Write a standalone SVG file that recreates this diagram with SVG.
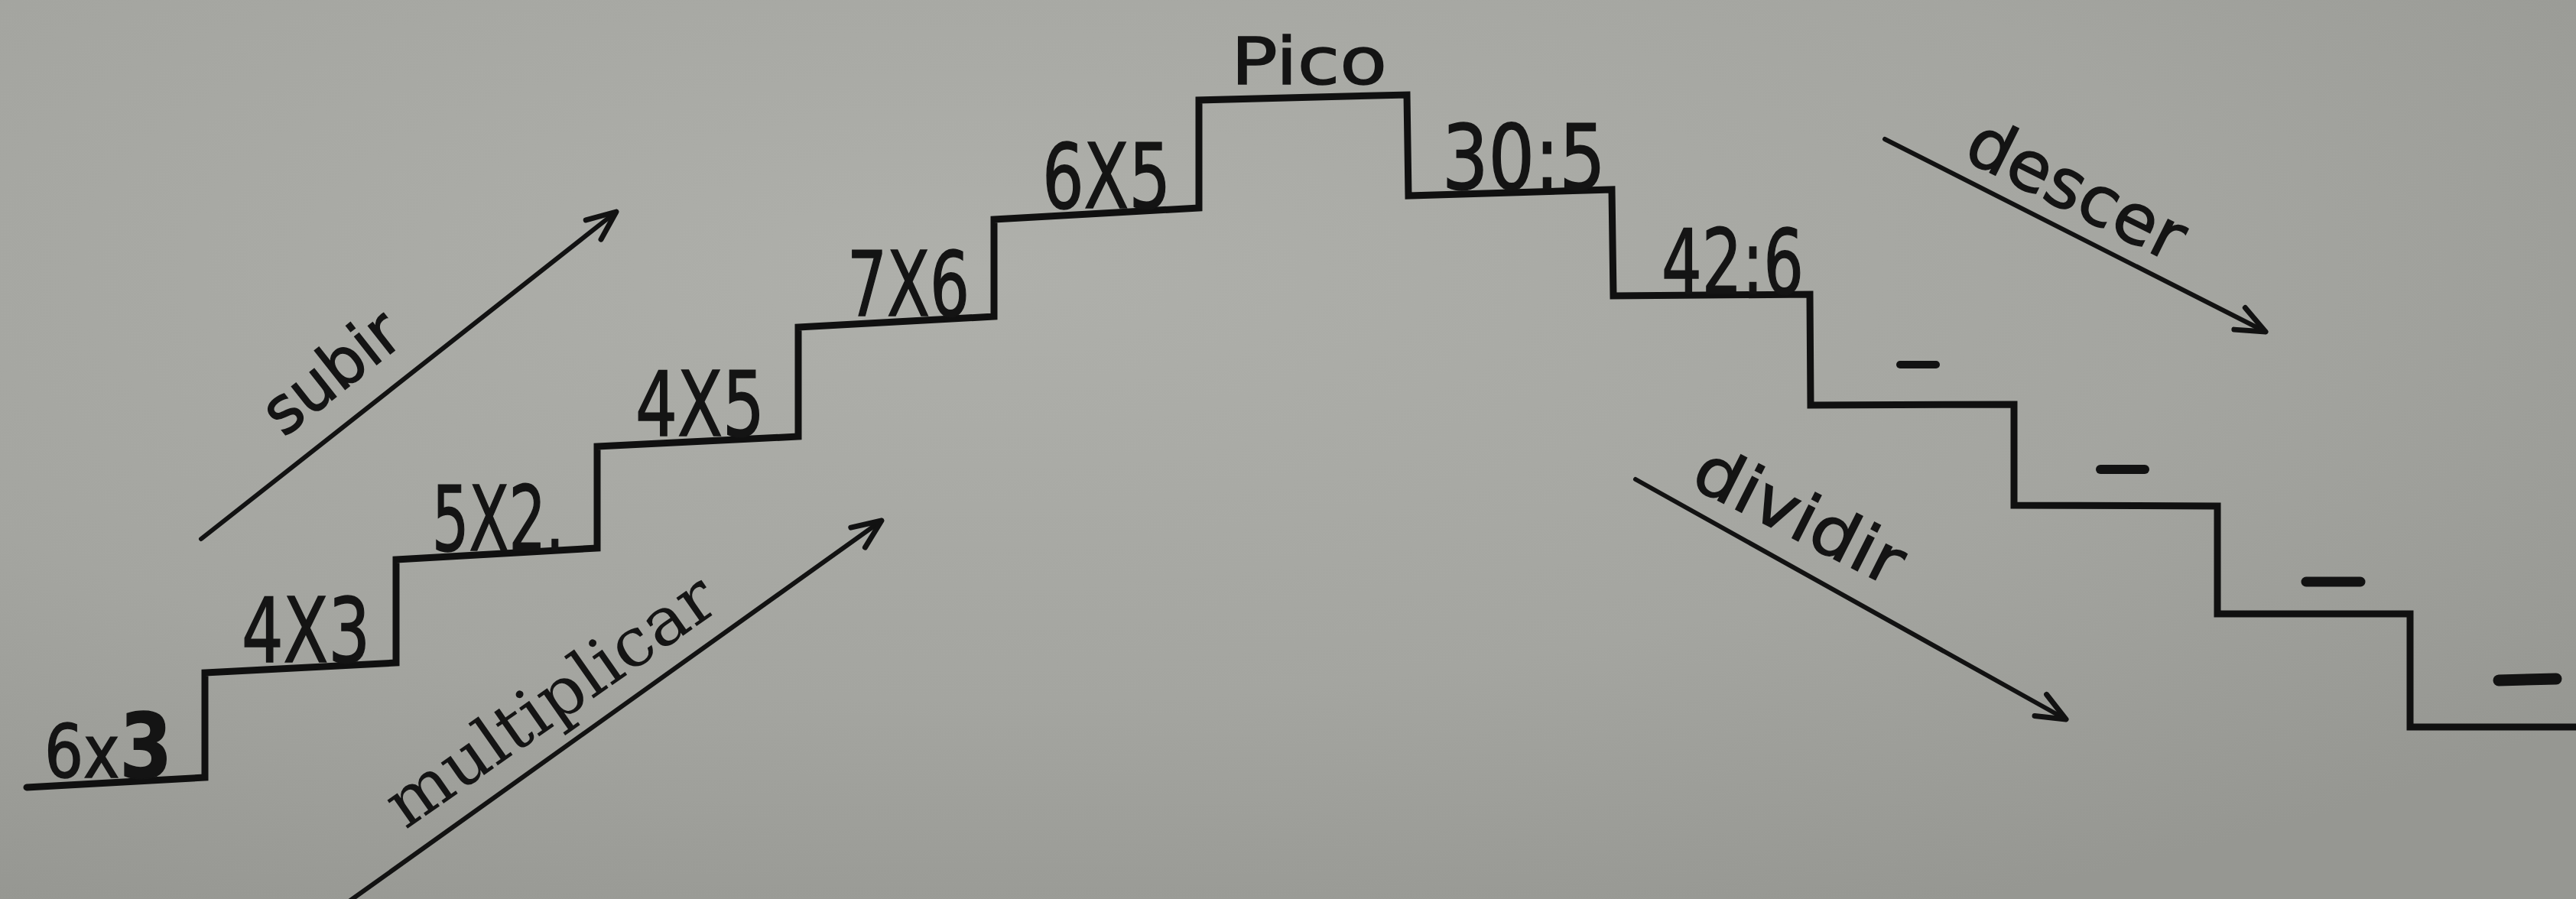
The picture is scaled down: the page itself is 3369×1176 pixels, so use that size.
<svg xmlns="http://www.w3.org/2000/svg" width="3369" height="1176" viewBox="0 0 3369 1176">
  <defs>
    <radialGradient id="paper" cx="0.38" cy="0.3" r="0.8">
      <stop offset="0" stop-color="#afb0ab"/>
      <stop offset="0.6" stop-color="#a4a5a0"/>
      <stop offset="1" stop-color="#969792"/>
    </radialGradient>
    <marker id="head" markerUnits="userSpaceOnUse" viewBox="-44 -22 50 44" refX="0" refY="0" markerWidth="50" markerHeight="44" orient="auto">
      <path d="M -38 -16 L 0 0 L -38 16" fill="none" stroke="#121212" stroke-width="7" stroke-linecap="round" stroke-linejoin="round"/>
    </marker>
    <style>
      .stair { fill: none; stroke: #101010; stroke-width: 9; stroke-linejoin: miter; stroke-linecap: round; }
      .num { font-family: "DejaVu Sans Condensed", "DejaVu Sans", "Liberation Sans", sans-serif; font-size: 118px; fill: #141414; stroke: #141414; stroke-width: 1.5; }
      .word { font-family: "DejaVu Sans", "Liberation Sans", sans-serif; fill: #141414; stroke: #141414; stroke-width: 1.5; }
      .serif { font-family: "DejaVu Serif", "Liberation Serif", serif; fill: #141414; }
      .arrow { fill: none; stroke: #121212; stroke-width: 6; stroke-linecap: round; marker-end: url(#head); }
      .dash { stroke: #121212; stroke-linecap: round; }
    </style>
  </defs>

  <rect width="3369" height="1176" fill="url(#paper)"/>

  <g id="staircase">
    <path class="stair" d="M 35 1030 L 268 1017 L 268 880 L 518 867 L 518 732 L 781 717 L 781 584 L 1044 571 L 1044 428 L 1300 414 L 1300 287 L 1568 272 L 1568 131 L 1840 124 L 1842 256 L 2108 248 L 2110 387 L 2367 385 L 2368 530 L 2634 529 L 2634 661 L 2900 662 L 2900 803 L 3152 803 L 3152 951 L 3369 951"/>
  </g>

  <g id="step-6x3"><text class="num" x="58" y="1017" textLength="167" lengthAdjust="spacingAndGlyphs"><tspan font-size="96">6x</tspan><tspan font-weight="bold">3</tspan></text></g>
  <g id="step-4x3"><text class="num" x="316" y="866" textLength="168" lengthAdjust="spacingAndGlyphs">4X3</text></g>
  <g id="step-5x2"><text class="num" x="565" y="720" textLength="173" lengthAdjust="spacingAndGlyphs">5X2.</text></g>
  <g id="step-4x5"><text class="num" x="831" y="570" textLength="169" lengthAdjust="spacingAndGlyphs">4X5</text></g>
  <g id="step-7x6"><text class="num" x="1108" y="413" textLength="160" lengthAdjust="spacingAndGlyphs">7X6</text></g>
  <g id="step-6x5"><text class="num" x="1363" y="272" textLength="168" lengthAdjust="spacingAndGlyphs">6X5</text></g>
  <g id="pico"><text class="word" x="1610" y="110" font-size="86" textLength="204" lengthAdjust="spacingAndGlyphs">Pico</text></g>
  <g id="step-30-5"><text class="num" x="1886" y="247" textLength="214" lengthAdjust="spacingAndGlyphs">30:5</text></g>
  <g id="step-42-6"><text class="num" x="2173" y="384" textLength="186" lengthAdjust="spacingAndGlyphs">42:6</text></g>

  <g id="blanks">
    <line class="dash" x1="2485" y1="477" x2="2532" y2="477" stroke-width="10"/>
    <line class="dash" x1="2747" y1="614" x2="2805" y2="614" stroke-width="12"/>
    <line class="dash" x1="3016" y1="761" x2="3087" y2="761" stroke-width="13"/>
    <line class="dash" x1="3268" y1="890" x2="3343" y2="888" stroke-width="15"/>
  </g>

  <g id="connectors">
    <line class="arrow" x1="263" y1="705" x2="806" y2="277"/>
    <line class="arrow" x1="458" y1="1178" x2="1153" y2="681"/>
    <line class="arrow" x1="2465" y1="182" x2="2963" y2="434"/>
    <line class="arrow" x1="2139" y1="627" x2="2702" y2="941"/>
  </g>

  <g id="label-subir"><text class="word" font-size="85" textLength="204" lengthAdjust="spacingAndGlyphs" transform="translate(371 573) rotate(-38.3)">subir</text></g>
  <g id="label-multiplicar"><text class="serif" font-size="88" textLength="505" lengthAdjust="spacingAndGlyphs" transform="translate(530 1086) rotate(-35)">multiplicar</text></g>
  <g id="label-descer"><text class="word" font-size="90" textLength="307" lengthAdjust="spacingAndGlyphs" transform="translate(2565 207) rotate(26.5)">descer</text></g>
  <g id="label-dividir"><text class="word" font-size="88" textLength="296" lengthAdjust="spacingAndGlyphs" transform="translate(2208 635) rotate(26.8)">dividir</text></g>
</svg>
